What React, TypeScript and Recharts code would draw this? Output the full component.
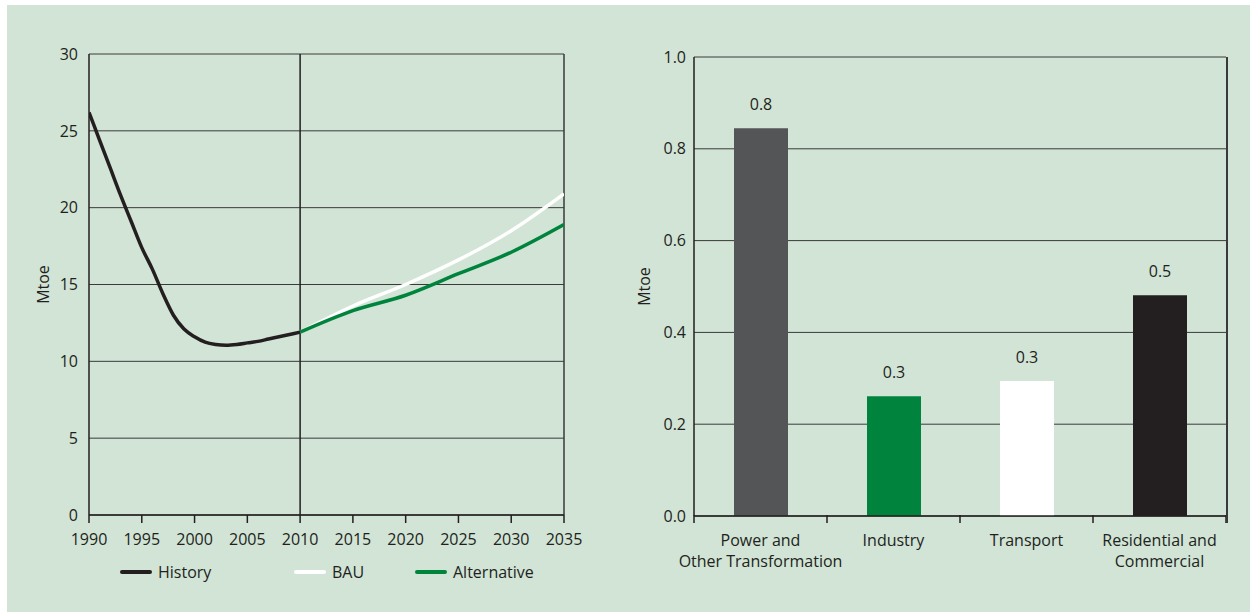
import React from 'react';
import {
  LineChart,
  Line,
  BarChart,
  Bar,
  Cell,
  LabelList,
  XAxis,
  YAxis,
  CartesianGrid,
  ReferenceLine,
} from 'recharts';

// left panel: primary energy demand, Mtoe
const historyYears = [1990, 1991, 1992, 1993, 1994, 1995, 1996, 1997, 1998, 1999, 2000, 2001, 2002, 2003, 2004, 2005, 2006, 2007, 2008, 2009, 2010];
const historyValues = [26.2, 24.4, 22.6, 20.8, 19.1, 17.4, 16.0, 14.4, 13.0, 12.1, 11.6, 11.25, 11.1, 11.05, 11.1, 11.2, 11.3, 11.45, 11.6, 11.75, 11.9];
const projectionYears = [2010, 2015, 2020, 2025, 2030, 2035];
const bauValues = [11.9, 13.6, 15.0, 16.6, 18.5, 20.9];
const alternativeValues = [11.9, 13.3, 14.3, 15.7, 17.1, 18.9];
const yearTicks = [1990, 1995, 2000, 2005, 2010, 2015, 2020, 2025, 2030, 2035];
const mtoeTicks = [0, 5, 10, 15, 20, 25, 30];

// right panel: savings by sector, Mtoe
const sectors = ['Power and Other Transformation', 'Industry', 'Transport', 'Residential and Commercial'];
const sectorLines = [['Power and', 'Other Transformation'], ['Industry'], ['Transport'], ['Residential and', 'Commercial']];
const sectorValues = [0.845, 0.261, 0.294, 0.481];
const sectorLabels = ['0.8', '0.3', '0.3', '0.5'];
const sectorColors = ['#545557', '#00843d', '#ffffff', '#231f20'];
const savingTicks = [0, 0.2, 0.4, 0.6, 0.8, 1.0];

const legendNames = ['History', 'BAU', 'Alternative'];
const legendColors = ['#231f20', '#ffffff', '#00843d'];
const legendLeft = [120, 294, 415];

const FONT = '"Open Sans", sans-serif';
const INK = '#231f20';
const GRID = '#3a3a3a';
const FS = 16;

const historyData = historyYears.map((year, i) => ({ year, value: historyValues[i] }));
const bauData = projectionYears.map((year, i) => ({ year, value: bauValues[i] }));
const altData = projectionYears.map((year, i) => ({ year, value: alternativeValues[i] }));
const barData = sectors.map((name, i) => ({ name, value: sectorValues[i], label: sectorLabels[i] }));

const tickStyle = { fill: INK, fontSize: FS, fontFamily: FONT };

const AxisTitle = ({ x, y }: any) => (
  <text x={x} y={y} transform={`rotate(-90 ${x} ${y})`} textAnchor="middle" dominantBaseline="central"
    fill={INK} fontSize={FS} fontFamily={FONT}>Mtoe</text>
);

const LineLegend = () => (
  <div style={{ position: 'absolute', left: 0, top: 561, height: 24, width: 620 }}>
    {legendNames.map((name, i) => (
      <div key={name} style={{ position: 'absolute', left: legendLeft[i], top: 0, display: 'flex', alignItems: 'center',
        fontFamily: FONT, fontSize: FS, color: INK }}>
        <span style={{ display: 'inline-block', width: 32, height: 4, borderRadius: 2, background: legendColors[i], marginRight: 6 }} />
        {name}
      </div>
    ))}
  </div>
);

// plot width of bar chart and category band, for the boundary ticks
const BAR_PLOT_W = 532;
const band = BAR_PLOT_W / sectors.length;

const SectorTick = ({ x, y, index }: any) => {
  const lines = sectorLines[index] || [];
  const axisY = y - 20;
  const left = x - band / 2;
  return (
    <g>
      <line x1={left} x2={left} y1={axisY} y2={axisY + 8} stroke={INK} strokeWidth={1.5} />
      {index === sectors.length - 1 && (
        <line x1={x + band / 2} x2={x + band / 2} y1={axisY} y2={axisY + 8} stroke={INK} strokeWidth={1.5} />
      )}
      <text x={x} y={y} textAnchor="middle" fill={INK} fontSize={FS} fontFamily={FONT}>
        {lines.map((t, k) => (
          <tspan key={k} x={x} dy={k === 0 ? '0.71em' : 21}>{t}</tspan>
        ))}
      </text>
    </g>
  );
};

const ValueLabel = ({ x, y, width, value }: any) => (
  <text x={x + width / 2} y={y - 18} textAnchor="middle" fill={INK} fontSize={FS} fontFamily={FONT}>{value}</text>
);

export default function App() {
  return (
    <div style={{ position: 'absolute', left: 0, top: 0, width: 1250, height: 612, background: '#ffffff' }}>
      <div style={{ position: 'absolute', left: 7, top: 5, width: 1243, height: 607, background: '#d1e4d6' }} />

      <div style={{ position: 'absolute', left: 0, top: 0 }}>
        <LineChart width={620} height={612} margin={{ top: 54, right: 56, bottom: 67, left: 29 }}>
          <CartesianGrid vertical={false} stroke={GRID} strokeWidth={1} />
          <XAxis type="number" dataKey="year" domain={[1990, 2035]} ticks={yearTicks} allowDataOverflow
            tick={tickStyle} tickSize={8} tickMargin={11} stroke={INK} strokeWidth={1.5} />
          <YAxis type="number" domain={[0, 30]} ticks={mtoeTicks} width={60} tickLine={false} tickSize={6} tickMargin={5}
            tick={tickStyle} stroke={INK} strokeWidth={1.5}
            label={{ content: ({ viewBox }: any) => <AxisTitle x={viewBox.x + 14} y={viewBox.y + viewBox.height / 2} /> }} />
          <ReferenceLine x={2010} stroke={INK} strokeWidth={1.5} />
          <ReferenceLine x={2035} stroke={GRID} strokeWidth={1.5} />
          <Line data={bauData} dataKey="value" type="monotone" stroke="#ffffff" strokeWidth={3.5} dot={false} isAnimationActive={false} />
          <Line data={altData} dataKey="value" type="monotone" stroke="#00843d" strokeWidth={3.5} dot={false} isAnimationActive={false} />
          <Line data={historyData} dataKey="value" type="monotone" stroke={INK} strokeWidth={3.5} dot={false} isAnimationActive={false} />
        </LineChart>
        <LineLegend />
      </div>

      <div style={{ position: 'absolute', left: 620, top: 0 }}>
        <BarChart width={630} height={612} data={barData} margin={{ top: 57, right: 24, bottom: 66, left: 14 }} barSize={54}>
          <CartesianGrid vertical={false} stroke={GRID} strokeWidth={1} />
          <XAxis dataKey="name" tickLine={false} tickSize={8} tickMargin={11} interval={0}
            tick={<SectorTick />} stroke={INK} strokeWidth={1.5} />
          <YAxis type="number" domain={[0, 1]} ticks={savingTicks} width={60} tickLine={false}
            tickFormatter={(v: number) => v.toFixed(1)} tick={tickStyle} stroke={INK} strokeWidth={1.5}
            label={{ content: ({ viewBox }: any) => <AxisTitle x={viewBox.x + 10} y={viewBox.y + viewBox.height / 2} /> }} />
          <Bar dataKey="value" isAnimationActive={false}>
            {barData.map((d, i) => (
              <Cell key={d.name} fill={sectorColors[i]} />
            ))}
            <LabelList dataKey="label" content={<ValueLabel />} />
          </Bar>
        </BarChart>
        <div style={{ position: 'absolute', left: 606, top: 57, width: 1.5, height: 466, background: GRID }} />
      </div>
    </div>
  );
}
